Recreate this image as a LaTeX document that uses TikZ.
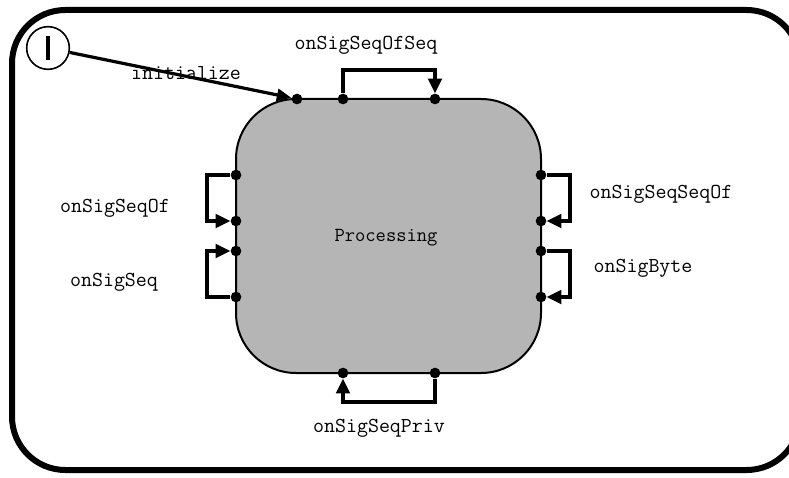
\documentclass[tikz,border=0pt]{standalone}
\usetikzlibrary{arrows.meta}
\begin{document}
\begin{tikzpicture}[x=0.75pt,y=-0.75pt,
  lbl/.style={font=\fontsize{16pt}{18pt}\ttfamily, inner sep=0pt},
  port/.style={circle, fill=black, inner sep=0pt, minimum size=8pt},
  trans/.style={line width=3pt, -{Triangle[length=11pt,width=10pt]}, line join=miter},
  statebox/.style={draw=black, line width=1.5pt, fill=gray!58, rounded corners=45pt,
    minimum width=228.75pt, minimum height=205.5pt, inner sep=0pt}]
\useasboundingbox (0,0) rectangle (789,478);
\begin{scope}
\clip (0,0) rectangle (789,478);
% enclosing region
\draw[line width=4.5pt, rounded corners=40pt] (12,10) rectangle (800,470);
\end{scope}

% state
\node[statebox] (proc) at (388.5,236) {};
\node[lbl, font=\fontsize{15pt}{17pt}\ttfamily] (ptext) at (386,238) {Processing};

% ports on the state border
\node[port] (t1) at (297,99) {};
\node[port] (t2) at (343,99) {};
\node[port] (t3) at (435,99) {};
\node[port] (l1) at (236,175) {};
\node[port] (l2) at (236,221) {};
\node[port] (l3) at (236,251) {};
\node[port] (l4) at (236,297) {};
\node[port] (r1) at (541,175) {};
\node[port] (r2) at (541,221) {};
\node[port] (r3) at (541,251) {};
\node[port] (r4) at (541,297) {};
\node[port] (b1) at (343,373) {};
\node[port] (b2) at (435,373) {};

% initial pseudostate
\node[circle, draw=black, line width=1.2pt, fill=white, minimum size=32pt, inner sep=0pt] (init) at (48,48) {};
\draw[line width=3pt] (48,36) -- (48,60);
\draw[line width=2.4pt, -{Triangle[length=11pt,width=9pt]}] (init) -- (t1);
\node[lbl] (linit) at (186,73) {initialize};

% self transitions
\draw[trans] (t2) -- (343,70) -| (t3);
\node[lbl] (ltop) at (366,45) {onSigSeqOfSeq};

\draw[trans] (l1) -- (207,175) |- (l2);
\node[lbl] (lleft1) at (115,208) {onSigSeqOf};
\draw[trans] (l4) -- (207,297) |- (l3);
\node[lbl] (lleft2) at (114,282) {onSigSeq};

\draw[trans] (r1) -- (570,175) |- (r2);
\node[lbl] (lright1) at (661,194) {onSigSeqSeqOf};
\draw[trans] (r3) -- (570,251) |- (r4);
\node[lbl] (lright2) at (643,268) {onSigByte};

\draw[trans] (b2) -- (435,402) -| (b1);
\node[lbl] (lbot) at (379,428) {onSigSeqPriv};
\end{tikzpicture}
\end{document}
